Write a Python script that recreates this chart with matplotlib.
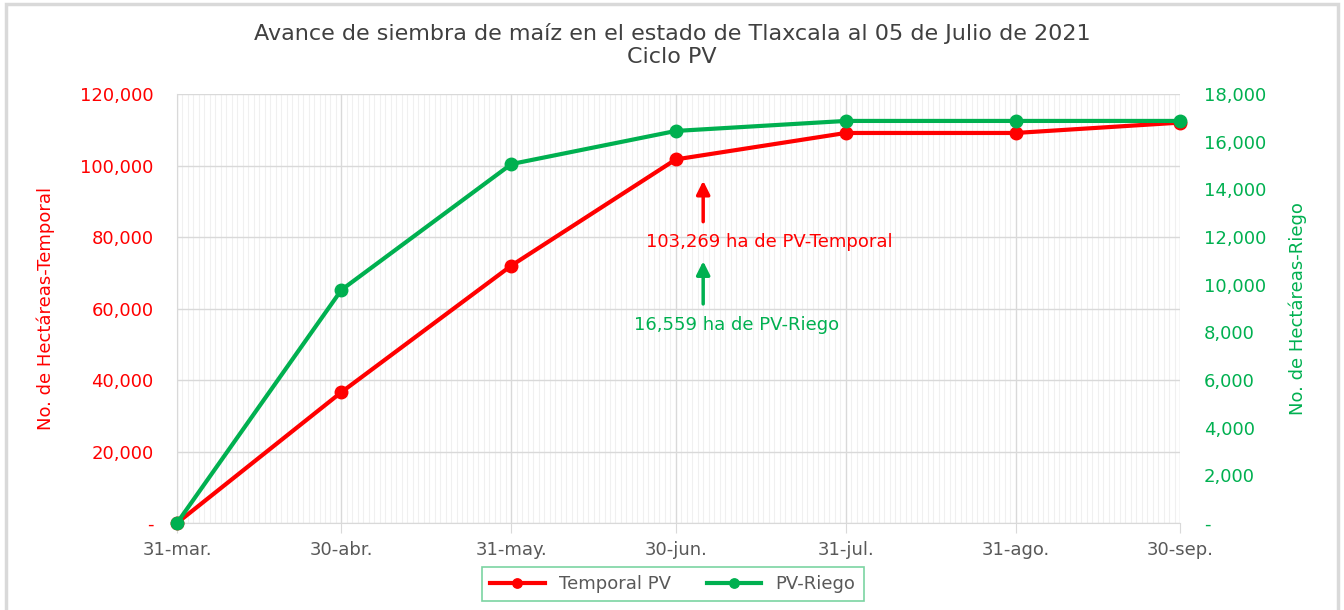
"""
Avance de siembra de maíz en Tlaxcala, ciclo PV 2021 (temporal vs riego).
"""

import matplotlib.pyplot as plt
import matplotlib.dates as mdates
from matplotlib.patches import Rectangle
from matplotlib.ticker import FuncFormatter, MultipleLocator
import datetime as dt

plt.rcParams['font.family'] = ['DejaVu Sans']

# Data
fechas = ['2021-03-31', '2021-04-30', '2021-05-31', '2021-06-30',
          '2021-07-31', '2021-08-31', '2021-09-30']
etiquetas = ['31-mar.', '30-abr.', '31-may.', '30-jun.', '31-jul.', '31-ago.', '30-sep.']
temporal = [0, 36600, 72000, 101700, 109100, 109100, 112000]
riego = [0, 9780, 15060, 16450, 16870, 16870, 16870]

# Annotation (values at 05 de julio)
fecha_nota = '2021-07-05'
nota_temporal = '103,269 ha de PV-Temporal'
nota_riego = '16,559 ha de PV-Riego'

rojo = '#FF0000'
verde = '#00B050'
gris = '#595959'

x = [dt.datetime.strptime(f, '%Y-%m-%d') for f in fechas]
x_nota = dt.datetime.strptime(fecha_nota, '%Y-%m-%d')

fig = plt.figure(figsize=(13.44, 6.10), dpi=100)
ax = fig.add_axes([0.1317, 0.1426, 0.7463, 0.7033])
ax2 = ax.twinx()

# Outer chart border
fig.patches.append(Rectangle((6 / 1344, -0.05), 1332 / 1344, 1.05 - 4 / 610,
                             transform=fig.transFigure, fill=False,
                             edgecolor='#D9D9D9', linewidth=2.5))

# Lines
ax.plot(x, temporal, color=rojo, linewidth=3, marker='o', markersize=9,
        label='Temporal PV', clip_on=False, zorder=3)
ax2.plot(x, riego, color=verde, linewidth=3, marker='o', markersize=9,
         label='PV-Riego', clip_on=False, zorder=3)

# Axes limits and ticks
ax.set_xlim(x[0], x[-1])
ax.set_ylim(0, 120000)
ax2.set_ylim(0, 18000)
ax.yaxis.set_major_locator(MultipleLocator(20000))
ax2.yaxis.set_major_locator(MultipleLocator(2000))

fmt = FuncFormatter(lambda v, p: '-' if v == 0 else f'{v:,.0f}')
ax.yaxis.set_major_formatter(fmt)
ax2.yaxis.set_major_formatter(fmt)

ax.set_xticks(x)
ax.set_xticklabels(etiquetas)
ax.xaxis.set_minor_locator(mdates.DayLocator())

ax.tick_params(axis='y', length=0, pad=17, labelsize=13, labelcolor=rojo)
ax2.tick_params(axis='y', length=0, pad=17, labelsize=13, labelcolor=verde)
ax.tick_params(axis='x', which='major', length=7, color='#D9D9D9', pad=6,
               labelsize=13, labelcolor=gris)
ax.tick_params(axis='x', which='minor', length=0)

# Grid
ax.grid(True, which='major', axis='both', color='#D9D9D9', linewidth=1)
ax.grid(True, which='minor', axis='x', color='#F0F0F0', linewidth=0.8)
ax.set_axisbelow(True)

for a in (ax, ax2):
    for s in ('top', 'right'):
        a.spines[s].set_visible(False)
    a.spines['left'].set_color('#D9D9D9')
    a.spines['bottom'].set_color('#D9D9D9')
ax2.spines['left'].set_visible(False)
ax2.spines['bottom'].set_visible(False)

# Axis labels
ax.set_ylabel('No. de Hectáreas-Temporal', color=rojo, fontsize=13, labelpad=18)
ax2.set_ylabel('No. de Hectáreas-Riego', color=verde, fontsize=13, labelpad=16)

# Title
fig.text(0.5, 1 - 45 / 610, 'Avance de siembra de maíz en el estado de Tlaxcala al 05 de Julio de 2021\nCiclo PV',
         ha='center', va='center', fontsize=16, color='#404040', linespacing=1.2)

# Annotations
ax.annotate('', xy=(x_nota, 96500), xytext=(x_nota, 83500),
            arrowprops=dict(arrowstyle='-|>', color=rojo, lw=2.5, mutation_scale=20))
ax.text(x_nota + dt.timedelta(days=12), 78500, nota_temporal, color=rojo,
        fontsize=13, ha='center', va='center')
ax.annotate('', xy=(x_nota, 74000), xytext=(x_nota, 60500),
            arrowprops=dict(arrowstyle='-|>', color=verde, lw=2.5, mutation_scale=20))
ax.text(x_nota + dt.timedelta(days=6), 55500, nota_riego, color=verde,
        fontsize=13, ha='center', va='center')

# Legend
h1, l1 = ax.get_legend_handles_labels()
h2, l2 = ax2.get_legend_handles_labels()
leg = fig.legend(h1 + h2, l1 + l2, loc='center', bbox_to_anchor=(673 / 1344, 1 - 584 / 610),
                 ncol=2, frameon=True, fancybox=False, fontsize=13, handlelength=3,
                 markerscale=0.75, columnspacing=2.0, borderpad=0.45, labelcolor=gris)
leg.get_frame().set_edgecolor('#5BC98A')
leg.get_frame().set_linewidth(1.2)

plt.savefig('out.png', dpi=100)
plt.close()
